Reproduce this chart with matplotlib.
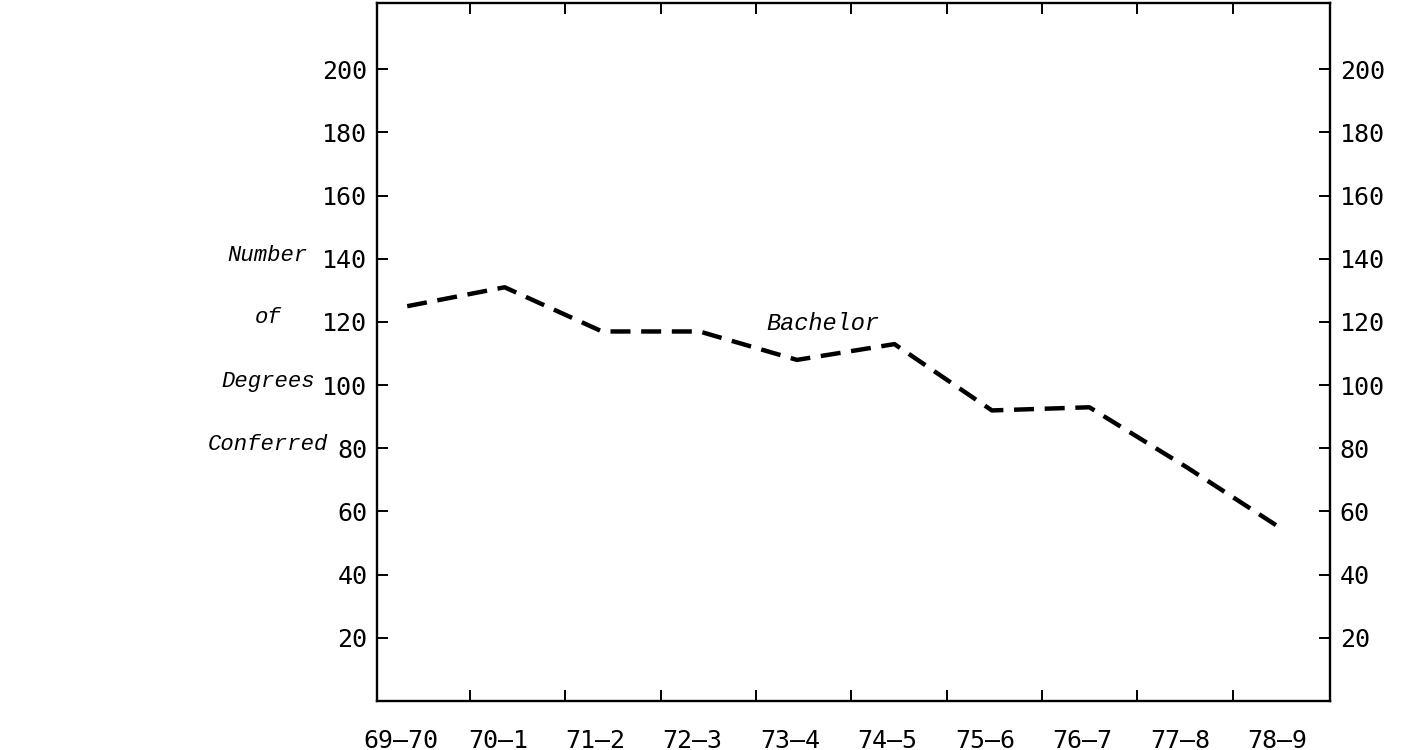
import numpy as np
import matplotlib
matplotlib.use("Agg")
import matplotlib.pyplot as plt

# school years and bachelor degrees conferred
years = ["69–70", "70–1", "71–2", "72–3", "73–4", "74–5", "75–6", "76–7", "77–8", "78–9"]
bachelor = [125, 131, 117, 117, 108, 113, 92, 93, 74, 54]
y_ticks = [20, 40, 60, 80, 100, 120, 140, 160, 180, 200]
ylab = ["Number", "of", "Degrees", "Conferred"]

W, H = 1406, 750
fig = plt.figure(figsize=(W / 100, H / 100), dpi=100)
ax = fig.add_axes([377 / W, 1 - 701 / H, (1330 - 377) / W, (701 - 3) / H])

x = np.arange(len(years))
ax.plot(x, bachelor, color="black", lw=3.2, linestyle=(0, (4.5, 2.4)))

ax.set_xlim(-0.31, 9.47)
ax.set_ylim(0, 221)

# the typed tick marks fall a little off the plotted years
ax.set_xticks(0.646 + 0.978 * np.arange(9))
ax.set_xticklabels([])
ax.set_xticks(x - 0.07, minor=True)
ax.set_xticklabels(years, minor=True, fontsize=18, family="DejaVu Sans Mono")
ax.tick_params(axis="x", which="major", direction="in", length=8, width=1.4,
               top=True, bottom=True)
ax.tick_params(axis="x", which="minor", length=0, pad=20)

ax.set_yticks(y_ticks)
ax.set_yticklabels([str(v) for v in y_ticks], fontsize=18, family="DejaVu Sans Mono")
ax.tick_params(axis="y", direction="in", length=8, width=1.4, left=True, right=True,
               labelleft=True, labelright=True, pad=7)

for s in ax.spines.values():
    s.set_linewidth(1.7)

ax.text(4.27, 119.5, "Bachelor", fontsize=17, style="italic", family="Liberation Mono",
        ha="center", va="center")

for i, t in enumerate(ylab):
    fig.text(268 / W, 1 - (255 + 63 * i) / H, t, fontsize=16, style="italic",
             family="Liberation Mono", ha="center", va="center")

fig.savefig("out.png", dpi=100)
